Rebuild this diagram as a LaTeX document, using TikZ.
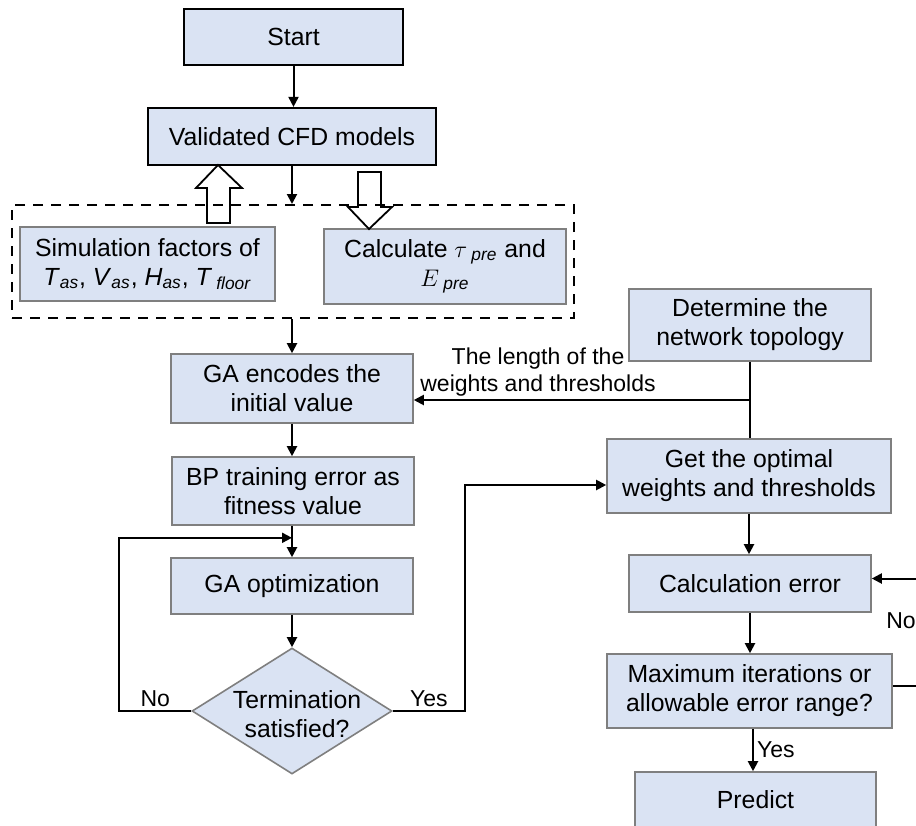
\documentclass[tikz,border=0pt]{standalone}
\usepackage{fontspec}
\setmainfont{Liberation Sans}
\usetikzlibrary{arrows.meta, positioning, shapes.geometric, calc}

\definecolor{boxfill}{HTML}{DAE3F3}
\definecolor{boxline}{HTML}{7F7F7F}

\tikzset{
  stepbox/.style={rectangle, draw=boxline, fill=boxfill, line width=0.8pt, align=center, inner sep=2pt},
  startbox/.style={stepbox, draw=black, line width=1.1pt},
  decision/.style={diamond, draw=boxline, fill=boxfill, line width=0.8pt, inner sep=0pt},
  flow/.style={-{Triangle[length=5pt, width=5pt]}, line width=1pt},
  note/.style={font=\fontsize{11.5}{13.5}\selectfont, align=center, inner sep=1.5pt},
  hollow/.style={line width=0.9pt, line join=miter}
}

\begin{document}
\begin{tikzpicture}[x=0.5pt, y=-0.5pt, every node/.style={font=\fontsize{12.4}{14.5}\selectfont}]
    \useasboundingbox (0,0) rectangle (916,825);

    % Left column
    \node[startbox, minimum width=109.5pt, minimum height=28pt] (start) at (293.5,37) {Start};
    \node[startbox, minimum width=144pt, minimum height=28.5pt] (cfd) at (292,136.5) {Validated CFD models};
    \node[draw, dashed, dash pattern=on 5pt off 4pt, line width=1pt, minimum width=281pt, minimum height=56.5pt] (grp) at (293,261.5) {};
    \node[stepbox, minimum width=127.5pt, minimum height=37pt] (sim) at (147.5,264)
        {Simulation factors of\\\textit{T}\textsubscript{\textit{as}}, \textit{V}\textsubscript{\textit{as}}, \textit{H}\textsubscript{\textit{as}}, \textit{T}\,\textsubscript{\textit{floor}}};
    \node[stepbox, minimum width=121pt, minimum height=37.5pt] (calc) at (445,266.5)
        {Calculate $\tau$\,\textsubscript{\textit{pre}} and\\$E$\,\textsubscript{\textit{pre}}};
    \node[stepbox, minimum width=121pt, minimum height=34.5pt] (encode) at (292,388.5) {GA encodes the\\initial value};
    \node[stepbox, minimum width=121pt, minimum height=34pt] (fitness) at (293,491) {BP training error as\\fitness value};
    \node[stepbox, minimum width=121pt, minimum height=28pt] (gaopt) at (292,586) {GA optimization};
    \node[decision, minimum width=100pt, minimum height=63pt] (term) at (292,711) {};
    \node[align=center, inner sep=0pt] (termtext) at (297,714) {Termination\\satisfied?};

    % Right column
    \node[stepbox, minimum width=121pt, minimum height=36pt] (topo) at (750,325) {Determine the\\network topology};
    \node[stepbox, minimum width=142pt, minimum height=37pt] (optw) at (749,476) {Get the optimal\\weights and thresholds};
    \node[stepbox, minimum width=121pt, minimum height=28.5pt] (calcerr) at (750,583.5) {Calculation error};
    \node[stepbox, minimum width=142.5pt, minimum height=37pt] (maxit) at (749.5,691) {Maximum iterations or\\allowable error range?};
    \node[stepbox, minimum width=120.5pt, minimum height=28pt] (predict) at (755.5,800) {Predict};

    % Block arrows
    \draw[hollow] (218,165) -- (242,188) -- (230,188) -- (230,223) -- (207,223) -- (207,188) -- (196,188) -- cycle;
    \draw[hollow] (358,172) -- (381,172) -- (381,207) -- (392,207) -- (369,229) -- (348,207) -- (358,207) -- cycle;

    % Connectors
    \coordinate (merge) at ([yshift=-6pt]fitness.south -| gaopt);
    \coordinate (split) at ($(topo.south)!0.5!(optw.north)$);

    \draw[flow] (start) -- (start |- cfd.north);
    \draw[flow] (cfd.south) -- (cfd.south |- grp.north);
    \draw[flow] (grp.south -| encode) -- (encode);
    \draw[flow] (encode) -- (encode |- fitness.north);
    \draw[flow] (fitness.south -| gaopt) -- (gaopt);
    \draw[flow] (gaopt) -- (term);
    \draw[flow] (term.west) -- ++(-72,0) node[note, midway, above] {No} |- (merge);
    \draw[flow] (term.east) -- ++(72,0) node[note, midway, above] {Yes} |- ([yshift=-4.5pt]optw.west);

    \draw[line width=1pt] (topo) -- (topo |- optw.north);
    \draw[flow] (split) -- (split -| encode.east)
        node[note, pos=0.63, above] {The length of the\\weights and thresholds};
    \draw[flow] (optw) -- (optw |- calcerr.north);
    \draw[flow] (calcerr) -- (calcerr |- maxit.north);
    \draw[flow] ([xshift=1.75pt]maxit.south) -- ([xshift=1.75pt]maxit.south |- predict.north)
        node[note, midway, right] {Yes};
    \draw[flow] ([yshift=2.5pt]maxit.east) -- ++(40,0) |- ([yshift=2.5pt]calcerr.east);
    \node[note] (nolabel) at (901,621) {No};
\end{tikzpicture}
\end{document}
